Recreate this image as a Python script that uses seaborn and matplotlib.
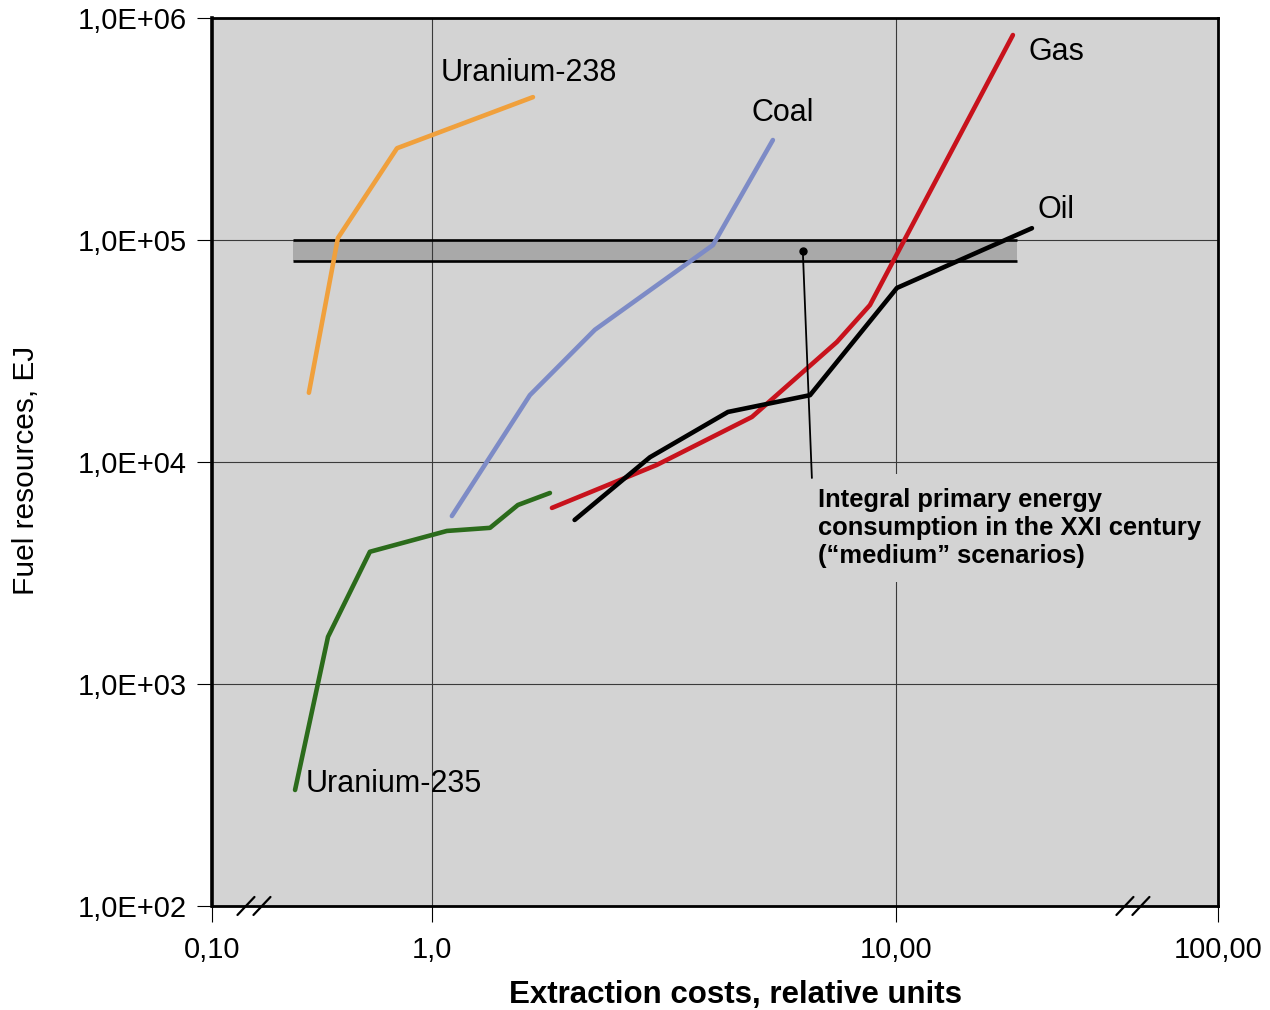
import numpy as np
import pandas as pd
import matplotlib
matplotlib.use("Agg")
import matplotlib.pyplot as plt
import seaborn as sns

# values (x = extraction cost, y = fuel resources, EJ)
u238_x = [0.543, 0.627, 0.841, 1.651]
u238_y = [2.05e4, 1.02e5, 2.59e5, 4.4e5]

u235_x = [0.507, 0.597, 0.735, 1.077, 1.334, 1.532, 1.796]
u235_y = [333, 1630, 3940, 4890, 5050, 6400, 7250]

coal_x = [1.104, 1.626, 2.245, 4.034, 5.43]
coal_y = [5710, 2.0e4, 3.94e4, 9.49e4, 2.82e5]

gas_x = [1.814, 3.05, 4.894, 7.46, 8.79, 17.87]
gas_y = [6210, 9690, 15950, 34700, 50900, 8.38e5]

oil_x = [2.03, 2.95, 4.345, 6.53, 10.05, 19.64]
oil_y = [5480, 10500, 16800, 20000, 60800, 1.13e5]

# XXI century consumption band
band_x = [0.502, 18.2]
band_lo = 8.04e4
band_hi = 1.0e5
note_dot = (6.30, 8.9e4)
note_end = (6.59, 8470)
note_text = "Integral primary energy\nconsumption in the XXI century\n(\u201cmedium\u201d scenarios)"
note_pos = (6.79, 5050)

series_labels = {
    "Uranium-238": (1.045, 5.68e5),
    "Coal": (4.894, 3.75e5),
    "Gas": (19.35, 7.05e5),
    "Oil": (20.23, 1.37e5),
    "Uranium-235": (0.535, 356),
}

x_ticks = [0.1, 1, 10, 100]
x_ticklabels = ["0,10", "1,0", "10,00", "100,00"]
y_ticks = [1e2, 1e3, 1e4, 1e5, 1e6]
y_ticklabels = ["1,0E+02", "1,0E+03", "1,0E+04", "1,0E+05", "1,0E+06"]

palette = {
    "Uranium-238": "#f0a03c",
    "Uranium-235": "#2b6b1b",
    "Coal": "#7d8bc6",
    "Gas": "#c8121c",
    "Oil": "#000000",
}

df = pd.concat([
    pd.DataFrame({"cost": u238_x, "resource": u238_y, "fuel": "Uranium-238"}),
    pd.DataFrame({"cost": u235_x, "resource": u235_y, "fuel": "Uranium-235"}),
    pd.DataFrame({"cost": coal_x, "resource": coal_y, "fuel": "Coal"}),
    pd.DataFrame({"cost": gas_x, "resource": gas_y, "fuel": "Gas"}),
    pd.DataFrame({"cost": oil_x, "resource": oil_y, "fuel": "Oil"}),
], ignore_index=True)

sns.set_theme(style="ticks")
plt.rcParams["font.family"] = ["Liberation Sans", "DejaVu Sans"]
plt.rcParams["text.color"] = "black"
plt.rcParams["axes.labelcolor"] = "black"
plt.rcParams["xtick.color"] = "black"
plt.rcParams["ytick.color"] = "black"

BG = "#d3d3d3"

# broken log axis: 0.1..0.41 and 32..100 are squeezed
LA, LB = -0.3836, 1.5108
KL, KR = 0.1468, 0.3745


def fwd(x):
    lx = np.log10(np.clip(np.asarray(x, float), 1e-12, None))
    return np.where(lx < LA, LA + (lx - LA) * KL, np.where(lx > LB, LB + (lx - LB) * KR, lx))


def inv(y):
    y = np.asarray(y, float)
    ly = np.where(y < LA, LA + (y - LA) / KL, np.where(y > LB, LB + (y - LB) / KR, y))
    return 10 ** ly


fig = plt.figure(figsize=(12.7, 10.1), dpi=100)
ax = fig.add_axes([0.1669, 0.1030, 0.7921, 0.8792])
ax.set_facecolor(BG)

sns.lineplot(data=df, x="cost", y="resource", hue="fuel", palette=palette,
             estimator=None, sort=False, linewidth=3.3, legend=False, ax=ax, zorder=3)

ax.set_xscale("function", functions=(fwd, inv))
ax.set_yscale("log")
ax.set_xlim(0.1, 100)
ax.set_ylim(1e2, 1e6)

# consumption band
ax.fill_between(band_x, band_lo, band_hi, color="#a9a9a9", lw=0, zorder=0.3)
ax.hlines([band_lo, band_hi], band_x[0], band_x[1], color="black", lw=1.9, zorder=2)
ax.plot([note_dot[0], note_end[0]], [note_dot[1], note_end[1]], color="black", lw=1.3, zorder=5)
ax.plot([note_dot[0]], [note_dot[1]], "o", color="black", ms=5, zorder=5)
ax.text(note_pos[0], note_pos[1], note_text, fontsize=18.4, fontweight="bold",
        ha="left", va="center", linespacing=1.2, zorder=4,
        bbox=dict(boxstyle="square,pad=0.55", fc=BG, ec="none"))

for name, (tx, ty) in series_labels.items():
    ax.text(tx, ty, name, fontsize=22, ha="left", va="center", zorder=6)

ax.set_xticks(x_ticks)
ax.set_xticklabels(x_ticklabels)
ax.set_yticks(y_ticks)
ax.set_yticklabels(y_ticklabels)
ax.xaxis.set_minor_locator(matplotlib.ticker.NullLocator())
ax.yaxis.set_minor_locator(matplotlib.ticker.NullLocator())
ax.tick_params(axis="x", length=11.5, width=0.8, pad=10, labelsize=21, direction="out")
ax.tick_params(axis="y", length=10.8, width=0.8, pad=7, labelsize=21, direction="out")

ax.set_axisbelow(True)
ax.grid(True, which="major", color="#3a3a3a", lw=0.8)

for side, sp in ax.spines.items():
    sp.set_visible(True)
    sp.set_color("black")
    sp.set_linewidth(2.0)
ax.spines["left"].set_linewidth(2.6)

# break marks on the x axis
for cx in [(254 - 212) / 1006, (1133 - 212) / 1006]:
    for dx in (-8 / 1006, 8 / 1006):
        ax.plot([cx + dx - 8.5 / 1006, cx + dx + 8.5 / 1006],
                [-9 / 888, 9 / 888], color="black", lw=1.6,
                transform=ax.transAxes, clip_on=False, zorder=7)

ax.set_xlabel("Extraction costs, relative units", fontsize=22.5, fontweight="bold")
ax.xaxis.set_label_coords((736 - 212) / 1006, -0.083)
ax.set_ylabel("Fuel resources, EJ", fontsize=21.5)
ax.yaxis.set_label_coords(-0.171, 0.491)

fig.savefig("out.png", dpi=100, facecolor="white")
